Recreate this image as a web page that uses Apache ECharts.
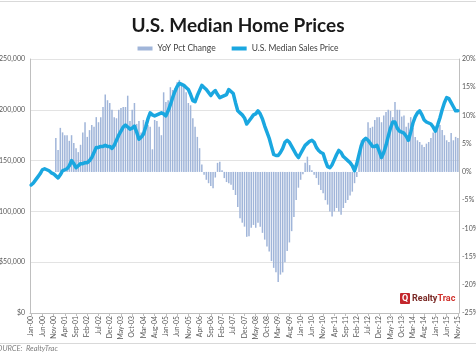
<!DOCTYPE html>
<html><head><meta charset="utf-8">
<script src="https://cdn.jsdelivr.net/npm/echarts@6/dist/echarts.min.js"></script>
<style>html,body{margin:0;padding:0;background:#fff}#c{width:476px;height:356px}</style>
</head><body><div id="c"></div>
<script>
const monthNames = ['Jan','Feb','Mar','Apr','May','Jun','Jul','Aug','Sep','Oct','Nov','Dec'];
const categories = [];
for (let y = 0; y <= 15; y++) {
  for (let m = 0; m < 12; m++) {
    if (y === 15 && m > 10) break;
    categories.push(monthNames[m] + '-' + String(y).padStart(2, '0'));
  }
}

// U.S. median sales price, in thousands of dollars (Jan-00 .. Nov-15)
const medianPriceK = [
  126,128,131,134,137,141,142,141,140,138,137,135,
  133,136,140,141,142,145,150,147,143,145,147,147,
  148,148,150,153,158,163,163,164,164,165,164,164,
  162,165,170,175,179,183,185,183,181,182,184,178,
  171,173,176,183,191,197,195,194,195,196,197,196,
  194,199,205,212,218,223,226,225,224,222,220,215,
  209,208,214,219,224,222,220,217,214,217,219,215,
  212,213,214,215,220,218,216,207,199,197,195,192,
  186,189,192,195,196,199,196,191,184,178,172,164,
  156,155,155,158,162,168,170,168,164,160,156,153,
  157,161,165,167,169,170,168,163,160,158,157,150,
  144,143,146,151,156,160,158,154,152,150,148,145,
  140,147,156,165,170,172,170,167,164,164,165,159,
  153,158,165,174,182,188,188,182,179,178,177,174,
  170,178,187,193,197,199,195,190,188,187,186,183,
  179,185,192,200,207,212,211,207,203,199,199
];

// YoY percent change
const yoyPct = [
  null,null,null,null,null,null,null,null,null,null,null,6.0,
  3.9,7.8,7.0,6.5,6.5,5.5,6.5,5.1,4.2,3.5,4.8,7.0,
  8.8,6.2,7.4,8.3,8.0,9.7,8.8,9.7,11.5,13.7,12.7,12.2,
  11.0,9.7,9.5,11.0,11.3,11.5,11.5,13.5,9.0,11.0,12.2,8.5,
  9.0,7.0,9.2,8.8,8.3,8.0,4.0,9.2,9.0,8.0,6.5,14.1,
  12.4,12.7,15.0,14.5,14.8,15.9,16.3,15.8,15.4,14.1,12.2,11.8,
  9.5,8.0,6.2,4.2,1.3,-0.5,-1.4,-2.0,-2.5,-2.9,-1.0,1.6,
  1.8,0.3,-1.1,-1.8,-2.0,-2.3,-3.2,-4.1,-6.2,-8.2,-9.0,-9.7,
  -11.5,-11.4,-9.9,-9.4,-9.9,-9.0,-9.7,-10.8,-12.0,-13.2,-14.1,-15.8,
  -17.0,-17.8,-19.5,-18.2,-17.8,-16.0,-14.0,-12.5,-10.5,-8.0,-5.0,-2.8,
  -1.4,-0.4,1.6,2.7,1.2,0.3,-0.5,-1.1,-2.3,-3.2,-3.8,-5.0,
  -5.8,-7.0,-7.9,-7.0,-6.4,-7.0,-7.6,-6.4,-5.5,-5.0,-4.2,-3.5,
  -2.0,-0.9,2.5,5.6,5.8,6.0,8.8,7.8,8.0,9.2,9.7,9.7,
  8.8,10.0,10.6,11.0,10.8,9.7,12.4,11.0,11.0,9.8,10.0,8.0,
  8.7,9.7,7.8,6.2,5.6,5.3,4.8,4.4,5.0,5.3,6.0,7.0,
  8.0,8.8,8.3,7.4,6.5,5.6,5.3,6.9,5.6,6.2,6.0
];

const leftTicks = { min: 0, max: 250, interval: 50 };
const rightTicks = { min: -25, max: 20, interval: 5 };

const chart = echarts.init(document.getElementById('c'), null, { renderer: 'canvas' });
chart.setOption({
  animation: false,
  backgroundColor: '#ffffff',
  title: {
    text: 'U.S. Median Home Prices',
    left: 'center', top: 11,
    textStyle: { fontFamily: 'Lato', fontWeight: 'bold', fontSize: 19, color: '#1a1a1a' }
  },
  legend: {
    top: 39, left: 'center',
    itemWidth: 15, itemHeight: 4, itemGap: 16,
    textStyle: { fontFamily: 'Lato', fontSize: 8.5, color: '#404040' },
    data: [
      { name: 'YoY Pct Change', icon: 'rect' },
      { name: 'U.S. Median Sales Price', icon: 'rect' }
    ]
  },
  grid: { left: 30, right: 17, top: 59, bottom: 43, containLabel: false, outerBoundsMode: 'none' },
  xAxis: {
    type: 'category', data: categories, boundaryGap: true,
    axisLine: { lineStyle: { color: '#bfbfbf' } },
    axisTick: { show: true, interval: 4, length: 3, alignWithLabel: true, lineStyle: { color: '#bfbfbf' } },
    axisLabel: { interval: 4, rotate: 90, fontFamily: 'Lato', fontSize: 6.8, color: '#595959', margin: 3 }
  },
  yAxis: [
    {
      type: 'value', min: leftTicks.min, max: leftTicks.max, interval: leftTicks.interval,
      axisLine: { show: true, lineStyle: { color: '#bfbfbf' } },
      axisTick: { show: false },
      splitLine: { lineStyle: { color: '#e3e3e3' } },
      axisLabel: {
        fontFamily: 'Lato', fontSize: 7, color: '#595959', margin: 5,
        formatter: v => '$' + (v * 1000).toLocaleString('en-US')
      }
    },
    {
      type: 'value', position: 'right', min: rightTicks.min, max: rightTicks.max, interval: rightTicks.interval,
      axisLine: { show: true, lineStyle: { color: '#bfbfbf' } },
      axisTick: { show: false },
      splitLine: { show: false },
      axisLabel: { fontFamily: 'Lato', fontSize: 7, color: '#595959', margin: 3, formatter: '{value}%' }
    }
  ],
  series: [
    {
      name: 'YoY Pct Change', type: 'bar', yAxisIndex: 1, data: yoyPct,
      barWidth: 1.5, itemStyle: { color: '#a0b5d9' }
    },
    {
      name: 'U.S. Median Sales Price', type: 'line', yAxisIndex: 0, data: medianPriceK,
      showSymbol: false, z: 3,
      itemStyle: { color: '#1aa7e0' },
      lineStyle: { width: 3.5, color: '#1aa7e0', join: 'round', cap: 'round' }
    }
  ],
  graphic: [
    { type: 'line', shape: { x1: 0, y1: 1.5, x2: 476, y2: 1.5 }, style: { stroke: '#d9d9d9', lineWidth: 1 } },
    { type: 'line', shape: { x1: 0, y1: 343.5, x2: 476, y2: 343.5 }, style: { stroke: '#d9d9d9', lineWidth: 1 } },
    { type: 'text', left: -7, top: 345, style: { text: 'SOURCE:  RealtyTrac', fontFamily: 'Lato', fontStyle: 'italic', fontSize: 7.5, fill: '#7f7f7f' } },
    { type: 'rect', left: 400, top: 293, shape: { width: 10, height: 11, r: 1 }, style: { fill: '#c3262c' } },
    { type: 'text', left: 402, top: 294, style: { text: 'Q', fontFamily: 'Roboto', fontWeight: 'bold', fontSize: 9, fill: '#ffffff' } },
    { type: 'text', left: 412, top: 294, style: {
        text: '{a|Realty}{b|Trac}',
        rich: {
          a: { fontFamily: 'Roboto', fontWeight: 'bold', fontSize: 9, fill: '#7a2a26' },
          b: { fontFamily: 'Roboto', fontWeight: 'bold', fontSize: 9, fill: '#d0302b' }
        }
      } }
  ]
});
</script>
</body></html>
